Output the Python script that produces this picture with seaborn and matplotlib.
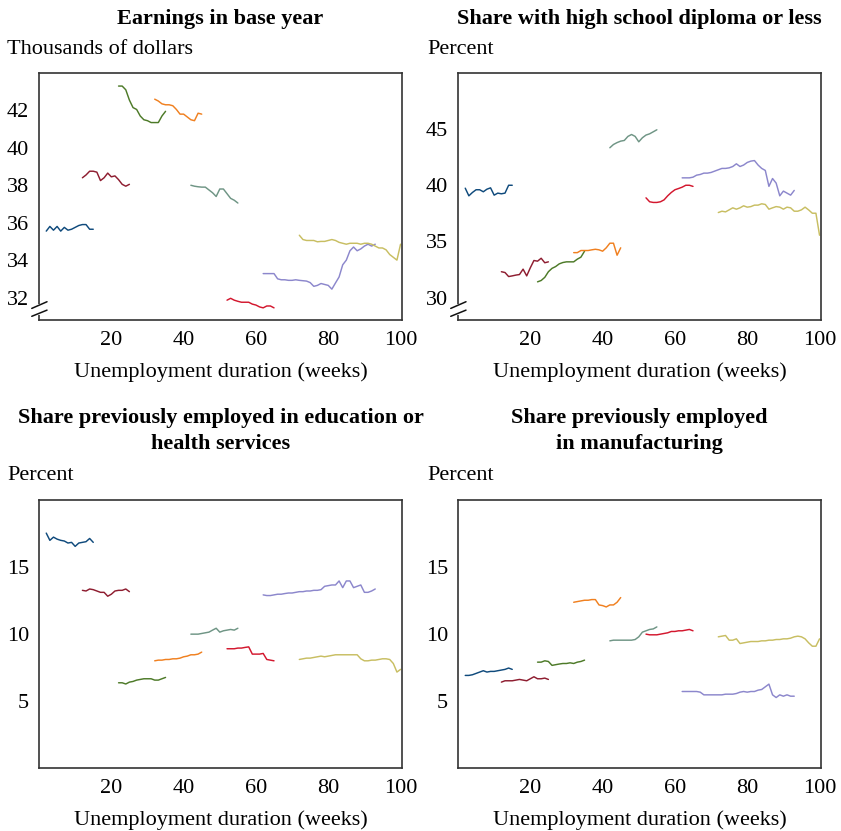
import pandas as pd
import seaborn as sns
import matplotlib.pyplot as plt

# duration groups (weeks)
group_starts = [2, 12, 22, 32, 42, 52, 62, 72]
group_ends = [15, 25, 35, 45, 55, 65, 93, 100]
group_colors = ["#0f4a7c", "#8e1d30", "#4d7a28", "#f08020", "#6f9585",
                "#d3172e", "#8c87cc", "#c8be62"]

earnings = [
    [35.55, 35.8, 35.6, 35.8, 35.55, 35.75, 35.6, 35.65, 35.75, 35.85, 35.9, 35.9, 35.65, 35.65],
    [38.4, 38.55, 38.75, 38.75, 38.7, 38.25, 38.4, 38.65, 38.45, 38.5, 38.3, 38.05, 37.95, 38.05],
    [43.3, 43.3, 43.1, 42.55, 42.15, 42.05, 41.7, 41.5, 41.45, 41.35, 41.35, 41.35, 41.7, 41.95],
    [42.6, 42.5, 42.35, 42.3, 42.3, 42.25, 42.05, 41.8, 41.8, 41.65, 41.5, 41.45, 41.85, 41.8],
    [38.0, 37.95, 37.92, 37.9, 37.9, 37.75, 37.6, 37.4, 37.8, 37.8, 37.55, 37.3, 37.2, 37.05],
    [31.86, 31.96, 31.86, 31.8, 31.75, 31.75, 31.75, 31.65, 31.6, 31.5, 31.45, 31.55, 31.55, 31.45],
    [33.28, 33.28, 33.28, 33.28, 33.0, 32.95, 32.95, 32.92, 32.92, 32.95, 32.92, 32.9, 32.88,
     32.8, 32.6, 32.65, 32.75, 32.7, 32.65, 32.45, 32.78, 33.1, 33.75, 34.0, 34.5, 34.7, 34.5,
     34.6, 34.75, 34.85, 34.75, 34.85],
    [35.33, 35.1, 35.05, 35.05, 35.05, 34.98, 35.0, 35.0, 35.05, 35.1, 35.05, 34.95, 34.9,
     34.85, 34.9, 34.9, 34.9, 34.85, 34.9, 34.9, 34.85, 34.75, 34.65, 34.65, 34.55, 34.3,
     34.15, 34.0, 34.85],
]

high_school = [
    [39.74, 39.06, 39.36, 39.6, 39.6, 39.42, 39.65, 39.77, 39.12, 39.3, 39.24, 39.3, 40.0, 40.0],
    [32.3, 32.23, 31.87, 31.93, 32.0, 32.05, 32.53, 31.93, 32.65, 33.3, 33.24, 33.5, 33.1, 33.18],
    [31.4, 31.52, 31.8, 32.3, 32.6, 32.76, 33.0, 33.12, 33.18, 33.18, 33.18, 33.42, 33.6, 34.13],
    [34.0, 34.0, 34.19, 34.19, 34.19, 34.25, 34.3, 34.25, 34.13, 34.43, 34.84, 34.84, 33.77, 34.43],
    [43.34, 43.63, 43.8, 43.93, 43.99, 44.35, 44.52, 44.35, 43.87, 44.23, 44.47, 44.58, 44.76, 44.94],
    [38.88, 38.53, 38.47, 38.47, 38.53, 38.7, 39.06, 39.36, 39.6, 39.71, 39.83, 40.0, 40.0, 39.9],
    [40.66, 40.66, 40.66, 40.72, 40.9, 40.96, 41.08, 41.08, 41.14, 41.26, 41.38, 41.5, 41.5,
     41.55, 41.67, 41.91, 41.67, 41.8, 42.03, 42.15, 42.2, 41.8, 41.5, 41.32, 39.9, 40.6,
     40.19, 39.06, 39.48, 39.3, 39.12, 39.54],
    [37.57, 37.69, 37.63, 37.81, 37.99, 37.87, 37.99, 38.17, 38.05, 38.1, 38.23, 38.23, 38.35,
     38.29, 37.87, 37.99, 38.1, 38.05, 37.87, 38.05, 37.99, 37.69, 37.69, 37.81, 38.05, 37.8,
     37.51, 37.51, 35.55],
]

educ_health = [
    [17.53, 16.99, 17.23, 17.08, 16.99, 16.94, 16.79, 16.84, 16.54, 16.79, 16.84, 16.89, 17.13, 16.84],
    [13.26, 13.21, 13.36, 13.31, 13.21, 13.11, 13.11, 12.82, 12.97, 13.21, 13.26, 13.26, 13.36, 13.16],
    [6.36, 6.36, 6.27, 6.41, 6.46, 6.56, 6.61, 6.66, 6.66, 6.66, 6.56, 6.56, 6.66, 6.76],
    [8.0, 8.05, 8.05, 8.1, 8.1, 8.15, 8.15, 8.2, 8.3, 8.35, 8.45, 8.45, 8.5, 8.65],
    [9.99, 9.99, 9.99, 10.04, 10.09, 10.14, 10.29, 10.43, 10.14, 10.24, 10.29, 10.34, 10.29, 10.43],
    [8.9, 8.9, 8.9, 8.95, 8.95, 9.0, 9.04, 8.5, 8.5, 8.5, 8.55, 8.1, 8.05, 8.0],
    [12.92, 12.87, 12.87, 12.92, 12.97, 12.97, 13.02, 13.06, 13.06, 13.11, 13.16, 13.16, 13.21,
     13.21, 13.26, 13.26, 13.31, 13.56, 13.61, 13.66, 13.66, 13.96, 13.46, 13.96, 13.96, 13.46,
     13.56, 13.66, 13.11, 13.11, 13.21, 13.36],
    [8.1, 8.15, 8.2, 8.2, 8.25, 8.3, 8.35, 8.3, 8.35, 8.4, 8.45, 8.45, 8.45, 8.45, 8.45, 8.45,
     8.45, 8.15, 8.0, 8.0, 8.05, 8.05, 8.1, 8.15, 8.15, 8.1, 7.8, 7.16, 7.36],
]

manufacturing = [
    [6.91, 6.91, 6.96, 7.06, 7.16, 7.26, 7.16, 7.21, 7.21, 7.26, 7.31, 7.36, 7.46, 7.36],
    [6.41, 6.51, 6.51, 6.51, 6.56, 6.61, 6.56, 6.51, 6.66, 6.81, 6.66, 6.66, 6.71, 6.61],
    [7.9, 7.9, 8.0, 7.95, 7.66, 7.71, 7.76, 7.8, 7.8, 7.85, 7.8, 7.9, 7.95, 8.05],
    [12.37, 12.42, 12.47, 12.52, 12.52, 12.57, 12.57, 12.17, 12.12, 12.02, 12.17, 12.17, 12.37, 12.72],
    [9.49, 9.54, 9.54, 9.54, 9.54, 9.54, 9.54, 9.59, 9.79, 10.14, 10.24, 10.34, 10.38, 10.53],
    [9.99, 9.94, 9.94, 9.94, 9.99, 10.04, 10.09, 10.19, 10.19, 10.24, 10.24, 10.29, 10.34, 10.24],
    [5.71, 5.71, 5.71, 5.71, 5.71, 5.66, 5.46, 5.46, 5.46, 5.46, 5.46, 5.46, 5.51, 5.51, 5.51,
     5.56, 5.66, 5.71, 5.66, 5.71, 5.71, 5.81, 5.86, 6.06, 6.26, 5.46, 5.26, 5.46, 5.36, 5.46,
     5.36, 5.36],
    [9.79, 9.84, 9.89, 9.54, 9.54, 9.64, 9.29, 9.34, 9.39, 9.44, 9.44, 9.44, 9.49, 9.49, 9.54,
     9.54, 9.59, 9.59, 9.64, 9.64, 9.69, 9.79, 9.84, 9.79, 9.64, 9.34, 9.09, 9.09, 9.64],
]

titles = ["Earnings in base year",
          "Share with high school diploma or less",
          "Share previously employed in education or\nhealth services",
          "Share previously employed\nin manufacturing"]
units = ["Thousands of dollars", "Percent", "Percent", "Percent"]
y_limits = [(30.8, 44), (28, 50), (0, 20), (0, 20)]
y_ticks = [[32, 34, 36, 38, 40, 42], [30, 35, 40, 45], [5, 10, 15], [5, 10, 15]]
x_ticks = [20, 40, 60, 80, 100]


def to_frame(series):
    rows = []
    for g, vals in enumerate(series):
        weeks = range(group_starts[g], group_ends[g] + 1)
        for w, v in zip(weeks, vals):
            rows.append({"week": w, "value": v, "group": g})
    return pd.DataFrame(rows)


def draw_break(ax):
    # hide a bit of the left spine and draw the "//" axis break
    kw = dict(transform=ax.transAxes, clip_on=False)
    ax.plot([0, 0], [0.027, 0.058], color="white", lw=3, zorder=5, **kw)
    ax.plot([-0.02, 0.022], [0.047, 0.074], color="#111111", lw=1.1, zorder=6, **kw)
    ax.plot([-0.02, 0.022], [0.015, 0.04], color="#111111", lw=1.1, zorder=6, **kw)


sns.set_style("white")
plt.rcParams["font.family"] = ["Liberation Serif", "DejaVu Serif"]
plt.rcParams["text.color"] = "black"
plt.rcParams["axes.labelcolor"] = "black"
plt.rcParams["xtick.labelcolor"] = "black"
plt.rcParams["ytick.labelcolor"] = "black"

fig = plt.figure(figsize=(8.41, 8.31), dpi=100)
boxes = [[0.0464, 0.6149, 0.4316, 0.2973],
         [0.5446, 0.6149, 0.4316, 0.2973],
         [0.0464, 0.0758, 0.4316, 0.3225],
         [0.5446, 0.0758, 0.4316, 0.3225]]
title_y = [1 - 19 / 831, 1 - 19 / 831, 1 - 431 / 831, 1 - 431 / 831]
unit_y = [1 - 50 / 831, 1 - 50 / 831, 1 - 476 / 831, 1 - 476 / 831]
unit_x = [7 / 841, 427 / 841, 7 / 841, 427 / 841]

for i, series in enumerate([earnings, high_school, educ_health, manufacturing]):
    ax = fig.add_axes(boxes[i])
    df = to_frame(series)
    sns.lineplot(data=df, x="week", y="value", hue="group", palette=group_colors,
                 estimator=None, legend=False, linewidth=1.05, ax=ax)
    ax.set_xlim(0, 100.4)
    ax.set_ylim(*y_limits[i])
    ax.set_xticks(x_ticks)
    ax.set_yticks(y_ticks[i])
    ax.tick_params(direction="in", length=5, width=1, labelsize=16, color="#222222")
    ax.tick_params(axis="y", pad=7)
    ax.tick_params(axis="x", pad=8)
    ax.set_xlabel("Unemployment duration (weeks)", fontsize=16, labelpad=9)
    ax.set_ylabel("")
    for s in ax.spines.values():
        s.set_color("#333333")
        s.set_linewidth(1.2)
    cx = boxes[i][0] + boxes[i][2] / 2
    fig.text(cx, title_y[i], titles[i], ha="center", va="center", fontsize=16,
             fontweight="bold", linespacing=1.4)
    fig.text(unit_x[i], unit_y[i], units[i], ha="left", va="center", fontsize=16)
    if i < 2:
        draw_break(ax)

fig.savefig("out.png", dpi=100)
plt.close()
